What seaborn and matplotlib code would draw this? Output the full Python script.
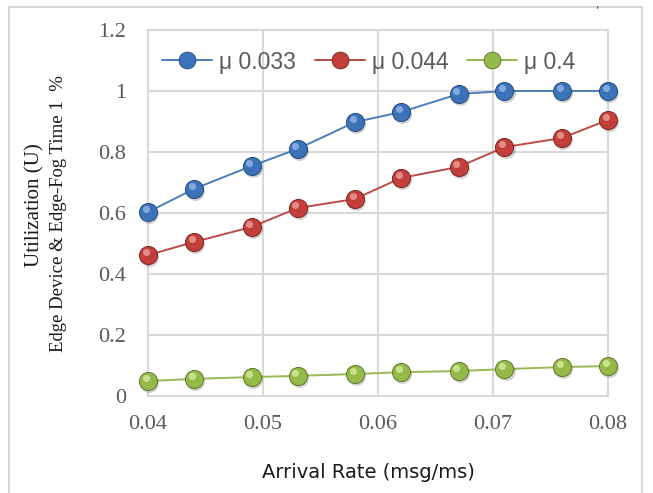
import matplotlib
matplotlib.use("Agg")
import matplotlib.pyplot as plt
import seaborn as sns
import pandas as pd
from matplotlib.patches import Rectangle
from matplotlib.lines import Line2D

arrival_rate = [0.040, 0.044, 0.049, 0.053, 0.058, 0.062, 0.067, 0.071, 0.076, 0.080]
util_mu_0033 = [0.603, 0.679, 0.754, 0.810, 0.898, 0.931, 0.990, 1.000, 1.000, 1.000]
util_mu_0044 = [0.462, 0.505, 0.554, 0.616, 0.646, 0.715, 0.751, 0.816, 0.846, 0.905]
util_mu_04 = [0.049, 0.056, 0.062, 0.066, 0.072, 0.078, 0.082, 0.088, 0.095, 0.098]
series_names = ["\u03bc 0.033", "\u03bc 0.044", "\u03bc 0.4"]
x_ticks = [0.04, 0.05, 0.06, 0.07, 0.08]
y_ticks = [0, 0.2, 0.4, 0.6, 0.8, 1.0, 1.2]
y_tick_labels = ["0", "0.2", "0.4", "0.6", "0.8", "1", "1.2"]

line_colors = ["#4A7EBB", "#BE4B48", "#98B954"]
ball_colors = ["#3C72B8", "#C23F3B", "#95BA4A"]
edge_colors = ["#264E80", "#7E2523", "#5E7A2A"]
shine_colors = ["#8FB4E3", "#E89A98", "#D3E79A"]

df = pd.DataFrame({
    "rate": arrival_rate * 3,
    "util": util_mu_0033 + util_mu_0044 + util_mu_04,
    "series": [series_names[0]] * len(arrival_rate)
    + [series_names[1]] * len(arrival_rate)
    + [series_names[2]] * len(arrival_rate),
})

sns.set_style("white")
fig = plt.figure(figsize=(6.53, 4.93), dpi=100)
ax = fig.add_axes([148 / 653, 1 - 396 / 493, 460 / 653, 366 / 493])

# outer chart border
fig.patches.append(Rectangle((9 / 653, -0.05), 633 / 653, 1.05 - 7 / 493,
                             transform=fig.transFigure, fill=False,
                             edgecolor="#D9D9D9", linewidth=1.5))

sns.lineplot(data=df, x="rate", y="util", hue="series", hue_order=series_names,
             palette=line_colors, linewidth=1.4, ax=ax, legend=False, zorder=3)

# glossy ball markers: shadow, body, highlight
for i, name in enumerate(series_names):
    sub = df[df["series"] == name]
    ax.scatter(sub["rate"] + 0.0001, sub["util"] - 0.007, s=185, color="#000000",
               alpha=0.18, linewidths=0, zorder=4, clip_on=False)
    ax.scatter(sub["rate"], sub["util"], s=170, color=ball_colors[i],
               edgecolors=edge_colors[i], linewidths=0.7, zorder=5, clip_on=False)
    ax.scatter(sub["rate"] - 0.0002, sub["util"] + 0.01, s=26,
               color=shine_colors[i], alpha=0.85, linewidths=0, zorder=6, clip_on=False)

ax.set_xlim(0.04, 0.08)
ax.set_ylim(0, 1.2)
ax.set_xticks(x_ticks)
ax.set_xticklabels([f"{t:.2f}" for t in x_ticks])
ax.set_yticks(y_ticks)
ax.set_yticklabels(y_tick_labels)
ax.grid(True, color="#D9D9D9", linewidth=1.5)
ax.set_axisbelow(True)
for sp in ax.spines.values():
    sp.set_color("#D9D9D9")
    sp.set_linewidth(1.5)
ax.tick_params(axis="both", length=0, labelcolor="#595959", labelsize=16)
ax.tick_params(axis="x", pad=14)
ax.tick_params(axis="y", pad=16)
for lbl in ax.get_xticklabels() + ax.get_yticklabels():
    lbl.set_family("Liberation Serif")

ax.set_xlabel("")
ax.set_ylabel("")
fig.text(368 / 653, 1 - 472 / 493, "Arrival Rate (msg/ms)", family="DejaVu Sans",
         fontsize=14, color="#1A1A1A", ha="center", va="center")
fig.text(35 / 653, 1 - 205 / 493, "Utilization (U)", family="Liberation Serif",
         fontsize=15, color="#1A1A1A", rotation=90, ha="center", va="center")
fig.text(59 / 653, 1 - 214 / 493, "Edge Device & Edge-Fog Time 1  %",
         family="Liberation Serif", fontsize=13.5, color="#1A1A1A",
         rotation=90, ha="center", va="center")

handles = [Line2D([0], [0], color=line_colors[i], linewidth=1.4, marker="o",
                  markersize=12, markerfacecolor=ball_colors[i],
                  markeredgecolor=edge_colors[i], markeredgewidth=0.7)
           for i in range(3)]
leg = ax.legend(handles, series_names, loc="center left",
                bbox_to_anchor=(14 / 460, (396 - 62) / 366),
                borderaxespad=0, borderpad=0,
                ncol=3, frameon=False, handlelength=2.2, handletextpad=0.3,
                columnspacing=0.8, prop={"family": "Liberation Sans", "size": 16.5})
for t in leg.get_texts():
    t.set_color("#595959")

fig.text(597 / 653, 1 - 5 / 493, ",", fontsize=8, color="#404040", ha="center", va="center")

fig.savefig("out.png", dpi=100)
